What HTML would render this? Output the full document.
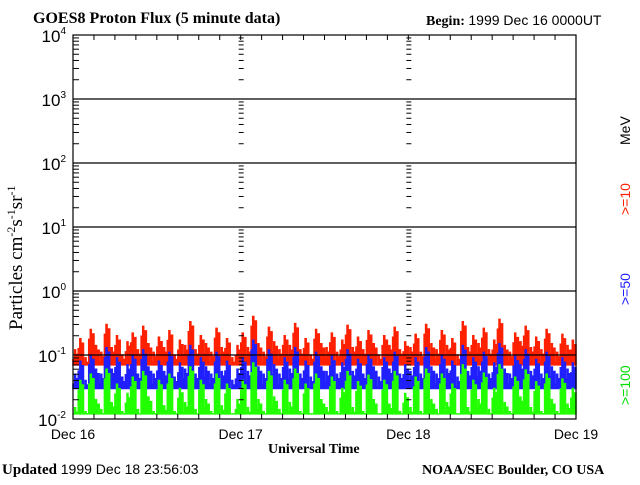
<!DOCTYPE html>
<html><head><meta charset="utf-8"><style>
body{margin:0;background:#fff;}
svg text{font-family:"Liberation Serif",serif;}
</style></head><body>
<svg id="c" width="640" height="480" xmlns="http://www.w3.org/2000/svg">
<text x="33" y="23" font-size="16" font-weight="bold">GOES8 Proton Flux (5 minute data)</text>
<text x="426" y="25" font-size="14"><tspan font-weight="bold">Begin:</tspan> <tspan font-family="Liberation Sans">1999 Dec 16 0000UT</tspan></text>
<text transform="translate(22,330) rotate(-90)" font-size="19">Particles cm<tspan dy="-7" font-size="12">-2</tspan><tspan dy="7">s</tspan><tspan dy="-7" font-size="12">-1</tspan><tspan dy="7">sr</tspan><tspan dy="-7" font-size="12">-1</tspan></text>
<text x="268" y="453" font-size="14" font-weight="bold">Universal Time</text>
<text x="2" y="474" font-size="15"><tspan font-weight="bold">Updated</tspan> <tspan font-family="Liberation Sans" font-size="14">1999 Dec 18 23:56:03</tspan></text>
<text x="422" y="474" font-size="14" font-weight="bold">NOAA/SEC Boulder, CO USA</text>
<text transform="translate(630,145) rotate(-90)" fill="#000" font-size="14" style="font-family:'Liberation Sans'">MeV</text>
<text transform="translate(630,215) rotate(-90)" fill="#ff2000" font-size="14" style="font-family:'Liberation Sans'">&gt;=10</text>
<text transform="translate(630,305) rotate(-90)" fill="#2020ff" font-size="14" style="font-family:'Liberation Sans'">&gt;=50</text>
<text transform="translate(630,405) rotate(-90)" fill="#00dd00" font-size="14" style="font-family:'Liberation Sans'">&gt;=100</text>
<g id="plot"></g>
</svg>
<script>
const days = ["Dec 16","Dec 17","Dec 18","Dec 19"];
const decades = [-2,-1,0,1,2,3,4];
const p10 = [0.12,0.18,0.09,0.25,0.14,0.11,0.3,0.13,0.2,0.1,0.16,0.22,0.12,0.28,0.15,0.11,0.19,0.13,0.24,0.1,0.17,0.14,0.33,0.12,0.2,0.15,0.11,0.26,0.13,0.18,0.09,0.14,
0.22,0.13,0.4,0.15,0.11,0.27,0.16,0.12,0.2,0.14,0.31,0.12,0.18,0.1,0.25,0.15,0.13,0.22,0.11,0.17,0.29,0.13,0.19,0.12,0.24,0.15,0.1,0.2,0.14,0.27,0.12,0.16,
0.13,0.21,0.11,0.3,0.15,0.12,0.24,0.14,0.18,0.1,0.33,0.13,0.2,0.15,0.26,0.12,0.17,0.36,0.14,0.11,0.22,0.16,0.28,0.13,0.19,0.12,0.25,0.15,0.11,0.21,0.14,0.17];
const p50 = [0.05,0.08,0.04,0.1,0.06,0.05,0.13,0.06,0.09,0.045,0.07,0.1,0.05,0.12,0.065,0.05,0.08,0.055,0.11,0.045,0.075,0.06,0.14,0.05,0.09,0.065,0.05,0.11,0.055,0.08,0.04,0.06,
0.09,0.055,0.17,0.065,0.05,0.12,0.07,0.05,0.09,0.06,0.13,0.05,0.08,0.045,0.11,0.065,0.055,0.095,0.05,0.075,0.12,0.055,0.085,0.05,0.1,0.065,0.045,0.09,0.06,0.11,0.05,0.07,
0.055,0.09,0.05,0.13,0.065,0.05,0.1,0.06,0.08,0.045,0.14,0.055,0.09,0.065,0.11,0.05,0.075,0.15,0.06,0.05,0.095,0.07,0.12,0.055,0.085,0.05,0.11,0.065,0.05,0.09,0.06,0.075];
const p100 = [0.015,0.04,0.013,0.05,0.02,0.014,0.06,0.018,0.035,0.013,0.025,0.045,0.014,0.055,0.022,0.013,0.04,0.016,0.05,0.013,0.03,0.018,0.065,0.014,0.04,0.02,0.013,0.05,0.016,0.035,0.012,0.02,
0.04,0.015,0.075,0.02,0.013,0.055,0.022,0.014,0.04,0.018,0.06,0.013,0.035,0.012,0.05,0.02,0.015,0.045,0.013,0.03,0.055,0.015,0.038,0.013,0.048,0.02,0.012,0.04,0.017,0.055,0.013,0.025,
0.015,0.045,0.013,0.06,0.02,0.014,0.05,0.018,0.035,0.012,0.07,0.015,0.04,0.02,0.052,0.014,0.03,0.07,0.018,0.013,0.045,0.022,0.058,0.015,0.038,0.013,0.05,0.02,0.013,0.042,0.017,0.03];
const floors = [0.07, 0.03, 0.012];

const X0=73, X1=576, YB=419, DEC=64;
const xs = t => X0 + (X1-X0)*t/3;
const ys = v => YB - (Math.log10(v)+2)*DEC;
const g = document.getElementById('plot');
const NS="http://www.w3.org/2000/svg";
function mk(tag, attrs){const e=document.createElementNS(NS,tag);for(const k in attrs)e.setAttribute(k,attrs[k]);g.appendChild(e);return e;}

[[p10,"#ff2000","series-10mev",floors[0]],[p50,"#2020ff","series-50mev",floors[1]],[p100,"#22ff00","series-100mev",floors[2]]].forEach(([arr,col,name,fl])=>{
  const n=arr.length, yf=ys(fl);
  let d="M"+xs(0).toFixed(1)+","+yf.toFixed(1);
  arr.forEach((v,i)=>{
    const xa=xs(3*i/n), xb=xs(3*(i+1)/n), w=xb-xa;
    const a=ys(Math.max(fl,v*0.7)), b=ys(v), c=ys(Math.max(fl,v*0.55)), e=ys(Math.max(fl,v*0.85));
    d+="L"+xa.toFixed(1)+","+a.toFixed(1)+"H"+(xa+w*0.3).toFixed(1)+"V"+b.toFixed(1)+"H"+(xa+w*0.5).toFixed(1)+"V"+c.toFixed(1)+"H"+(xa+w*0.75).toFixed(1)+"V"+e.toFixed(1)+"H"+xb.toFixed(1);
  });
  d+="V"+yf.toFixed(1)+"Z";
  const p=mk("path",{d:d,fill:col,stroke:col,"stroke-width":"1.5"});
  
  
});

decades.forEach(k=>{
  if(k===-2||k===4) return;
  const l=mk("line",{x1:X0,x2:X1,y1:YB-(k+2)*DEC,y2:YB-(k+2)*DEC,stroke:"#000","stroke-width":"1.2"});
  
  
});
const fr=mk("rect",{x:X0,y:YB-6*DEC,width:X1-X0,height:6*DEC,fill:"none",stroke:"#000","stroke-width":"1.2"});



for(let dd=0; dd<3; dd++){
  const x=xs(dd);
  for(let k=-2;k<4;k++) for(let m=2;m<=9;m++){
    const y=YB-(k+2+Math.log10(m))*DEC;
    const t=mk("line",{x1:dd===0?x:x-2,x2:dd===0?x+6:x+3,y1:y,y2:y,stroke:"#000","stroke-width":"1"});
    
    
  }
}
for(let i=1;i<24;i++){
  const x=xs(i/8);
  [[YB,YB-5],[YB-6*DEC,YB-6*DEC+5]].forEach(([a,b])=>{
    const t=mk("line",{x1:x,x2:x,y1:a,y2:b,stroke:"#000","stroke-width":"1"});
    
    
  });
}
decades.forEach(k=>{
  const t=mk("text",{x:X0-7,y:YB-(k+2)*DEC+7,"text-anchor":"end","font-size":"17",style:"font-family:'Liberation Sans'"});
  t.innerHTML='10<tspan dy="-8" font-size="10">'+k+'</tspan>';
  
  
});
days.forEach((s,i)=>{
  const t=mk("text",{x:xs(i),y:YB+20,"text-anchor":"middle","font-size":"14",style:"font-family:'Liberation Sans'"});
  t.textContent=s;
  
  
});
</script>
</body></html>
